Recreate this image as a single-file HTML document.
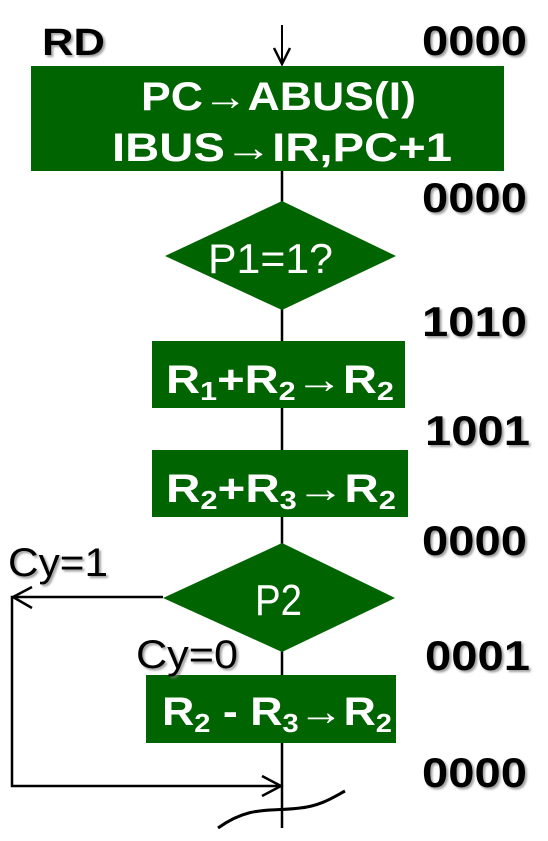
<!DOCTYPE html>
<html><head><style>
html,body{margin:0;padding:0;background:#fff}
svg{display:block}
text{font-family:"Liberation Sans",sans-serif}
.n{font-weight:bold;font-size:42px;fill:#000}
.w{fill:#fff;font-weight:bold;font-size:40px}
</style></head><body>
<svg width="548" height="841" viewBox="0 0 548 841">
<defs>
<filter id="sh"><feDropShadow dx="2" dy="2" stdDeviation="1" flood-color="#777" flood-opacity="0.7"/></filter>
</defs>
<line x1="282" y1="171" x2="282" y2="828" stroke="#000" stroke-width="2.5"/>
<line x1="282" y1="25" x2="282" y2="64" stroke="#000" stroke-width="2"/>
<polyline points="274,48 282,64 290,48" fill="none" stroke="#000" stroke-width="2.5"/>
<rect x="31" y="66" width="473" height="105" fill="#006400"/>
<text class="w" x="141" y="110" textLength="275" lengthAdjust="spacingAndGlyphs">PC→ABUS(I)</text>
<text class="w" x="112" y="161" textLength="340" lengthAdjust="spacingAndGlyphs">IBUS→IR,PC+1</text>
<polygon points="282,201 396,256 282,310 165,256" fill="#006400"/>
<text x="208" y="273" fill="#fff" font-size="42" textLength="125" lengthAdjust="spacingAndGlyphs">P1=1?</text>
<rect x="152" y="341" width="253" height="67" fill="#006400"/>
<text class="w" x="166" y="393" textLength="228" lengthAdjust="spacingAndGlyphs">R<tspan font-size="26" dy="7">1</tspan><tspan dy="-7">+R</tspan><tspan font-size="26" dy="7">2</tspan><tspan dy="-7">→R</tspan><tspan font-size="26" dy="7">2</tspan></text>
<rect x="152" y="450" width="256" height="67" fill="#006400"/>
<text class="w" x="166" y="502" textLength="230" lengthAdjust="spacingAndGlyphs">R<tspan font-size="26" dy="7">2</tspan><tspan dy="-7">+R</tspan><tspan font-size="26" dy="7">3</tspan><tspan dy="-7">→R</tspan><tspan font-size="26" dy="7">2</tspan></text>
<polygon points="282,543 395,598 282,652 163,598" fill="#006400"/>
<text x="255" y="615" fill="#fff" font-size="44" textLength="47" lengthAdjust="spacingAndGlyphs">P2</text>
<rect x="146" y="675" width="250" height="68" fill="#006400"/>
<text class="w" x="162" y="725" textLength="230" lengthAdjust="spacingAndGlyphs">R<tspan font-size="26" dy="7">2</tspan><tspan dy="-7"> - R</tspan><tspan font-size="26" dy="7">3</tspan><tspan dy="-7">→R</tspan><tspan font-size="26" dy="7">2</tspan></text>
<polyline points="163,597 12,597 12,786 280,786" fill="none" stroke="#000" stroke-width="2.5"/>
<polyline points="32,587 13,597 32,608" fill="none" stroke="#000" stroke-width="2.5"/>
<polyline points="262,776 281,786 262,796" fill="none" stroke="#000" stroke-width="2.5"/>
<path d="M218,828 C250,805 270,812 300,808 C320,806 332,798 345,791" fill="none" stroke="#000" stroke-width="3"/>
<text x="8" y="576" font-size="40" filter="url(#sh)" textLength="100" lengthAdjust="spacingAndGlyphs">Cy=1</text>
<text x="136" y="668" font-size="40" filter="url(#sh)" textLength="102" lengthAdjust="spacingAndGlyphs">Cy=0</text>
<g filter="url(#sh)">
<text x="42" y="55" font-size="38" font-weight="bold" textLength="63" lengthAdjust="spacingAndGlyphs">RD</text>
<text class="n" x="422" y="55" textLength="105" lengthAdjust="spacingAndGlyphs">0000</text>
<text class="n" x="422" y="212" textLength="105" lengthAdjust="spacingAndGlyphs">0000</text>
<text class="n" x="422" y="336" textLength="105" lengthAdjust="spacingAndGlyphs">1010</text>
<text class="n" x="425" y="445" textLength="105" lengthAdjust="spacingAndGlyphs">1001</text>
<text class="n" x="422" y="555" textLength="105" lengthAdjust="spacingAndGlyphs">0000</text>
<text class="n" x="425" y="670" textLength="105" lengthAdjust="spacingAndGlyphs">0001</text>
<text class="n" x="422" y="787" textLength="105" lengthAdjust="spacingAndGlyphs">0000</text>
</g>
</svg>
</body></html>
